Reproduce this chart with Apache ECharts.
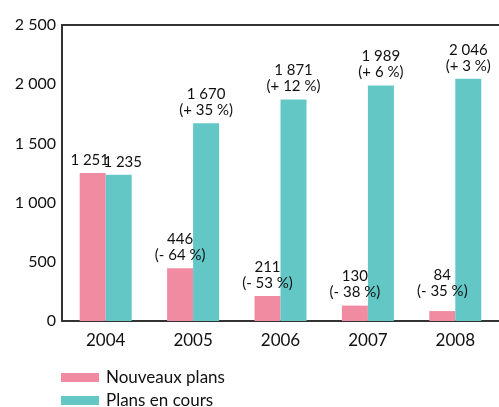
<!DOCTYPE html>
<html>
<head>
<meta charset="utf-8">
<script src="https://cdn.jsdelivr.net/npm/echarts@6/dist/echarts.min.js"></script>
<style>
html,body{margin:0;padding:0;background:#fff;}
#chart{width:499px;height:407px;}
</style>
</head>
<body>
<div id="chart"></div>
<script>
var categories = ['2004', '2005', '2006', '2007', '2008'];
var nouveauxPlans = [1251, 446, 211, 130, 84];
var plansEnCours = [1235, 1670, 1871, 1989, 2046];
var pctNouveaux = ['', '- 64 %', '- 53 %', '- 38 %', '- 35 %'];
var pctEnCours = ['', '+ 35 %', '+ 12 %', '+ 6 %', '+ 3 %'];
var seriesNames = ['Nouveaux plans', 'Plans en cours'];
var yTicks = [0, 500, 1000, 1500, 2000, 2500];

var FONT = 'Lato';
function fmt(v) {
  return String(v).replace(/\B(?=(\d{3})+(?!\d))/g, ' ');
}
function makeLabelFormatter(pcts) {
  return function (p) {
    var s = fmt(p.value);
    if (pcts[p.dataIndex]) s += '\n(' + pcts[p.dataIndex] + ')';
    return s;
  };
}

var chart = echarts.init(document.getElementById('chart'), null, {renderer: 'canvas'});

var pinkData = nouveauxPlans.map(function (v, i) {
  var item = {value: v};
  if (i === 4) item.label = {distance: 12};
  if (i === 0) item.label = {offset: [-3, 0]};
  return item;
});
var tealData = plansEnCours.map(function (v, i) {
  var item = {value: v};
  if (i === 0) item.label = {offset: [4, 0]};
  return item;
});

var labelStyle = {
  show: true,
  position: 'top',
  distance: 5,
  color: '#111',
  fontFamily: FONT,
  fontSize: 15,
  lineHeight: 16,
  align: 'center'
};

chart.setOption({
  animation: false,
  textStyle: {fontFamily: FONT},
  grid: {left: 62, top: 25, width: 449, height: 296, containLabel: false},
  legend: {
    orient: 'vertical',
    left: 61,
    top: 368,
    height: 60,
    padding: 0,
    itemWidth: 38,
    itemHeight: 9,
    itemGap: 4,
    icon: 'rect',
    textStyle: {fontFamily: FONT, fontSize: 17, lineHeight: 19, color: '#111', padding: [0, 0, 0, 2]},
    data: seriesNames
  },
  xAxis: [{
    type: 'category',
    data: categories,
    axisLine: {show: true, lineStyle: {color: '#333', width: 2}},
    axisTick: {show: false},
    axisLabel: {color: '#111', fontSize: 17, fontFamily: FONT, margin: 11}
  }, {
    type: 'category',
    position: 'top',
    data: categories,
    axisLine: {show: true, lineStyle: {color: '#333', width: 2}},
    axisTick: {show: false},
    axisLabel: {show: false}
  }],
  yAxis: {
    type: 'value',
    min: yTicks[0],
    max: yTicks[yTicks.length - 1],
    interval: yTicks[1] - yTicks[0],
    axisLine: {show: true, lineStyle: {color: '#333', width: 2}},
    axisTick: {show: false},
    splitLine: {show: false},
    axisLabel: {color: '#111', fontSize: 16, fontFamily: FONT, margin: 6, formatter: function (v) { return fmt(v); }}
  },
  series: [{
    name: seriesNames[0],
    type: 'bar',
    barWidth: 26,
    barGap: '0%',
    itemStyle: {color: '#f18ba2'},
    label: Object.assign({}, labelStyle, {formatter: makeLabelFormatter(pctNouveaux)}),
    data: pinkData
  }, {
    name: seriesNames[1],
    type: 'bar',
    barWidth: 26,
    barGap: '0%',
    itemStyle: {color: '#63c7c6'},
    label: Object.assign({}, labelStyle, {formatter: makeLabelFormatter(pctEnCours)}),
    data: tealData
  }]
});
</script>
</body>
</html>
